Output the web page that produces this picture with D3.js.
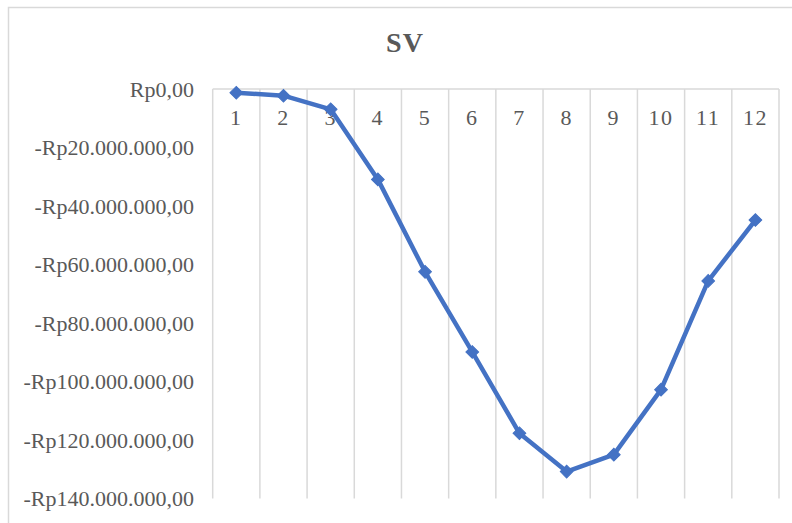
<!DOCTYPE html>
<html>
<head>
<meta charset="utf-8">
<script src="https://cdn.jsdelivr.net/npm/d3@7"></script>
<style>
html,body{margin:0;padding:0;background:#fff;}
svg{display:block;}
</style>
</head>
<body>
<svg id="chart" width="792" height="523"></svg>
<script>
const categories = ["1","2","3","4","5","6","7","8","9","10","11","12"];
const values = [-1270000, -2290000, -6950000, -30900000, -62500000, -89900000, -117700000, -130800000, -125000000, -102800000, -65600000, -44800000];
const yTicks = [0, -20000000, -40000000, -60000000, -80000000, -100000000, -120000000, -140000000];
const yTickLabels = ["Rp0,00","-Rp20.000.000,00","-Rp40.000.000,00","-Rp60.000.000,00","-Rp80.000.000,00","-Rp100.000.000,00","-Rp120.000.000,00","-Rp140.000.000,00"];
const title = "SV";

(function(){
const svg = d3.select("#chart");
const pL = 212.7, pR = 779, pT = 89, pB = 498.5;
const font = "'Liberation Serif','Times New Roman',serif";
const grey = "#595959";
const gridCol = "#d9d9d9";

// chart frame
svg.append("rect").attr("x", 8.5).attr("y", 7.5).attr("width", 820).attr("height", 560)
  .attr("fill", "#fff").attr("stroke", gridCol).attr("stroke-width", 1.5);

// title
svg.append("text").attr("x", 405).attr("y", 52).attr("text-anchor", "middle")
  .attr("font-family", font).attr("font-weight", "bold").attr("font-size", 28)
  .attr("fill", grey).attr("letter-spacing", 1).text(title);

const x = d3.scaleBand().domain(categories).range([pL, pR]).padding(0);
const y = d3.scaleLinear().domain([0, -140000000]).range([pT, pB]);

// vertical category gridlines
const bounds = categories.map(c => x(c)).concat([pR]);
svg.append("g").selectAll("line").data(bounds).join("line")
  .attr("x1", d => d).attr("x2", d => d).attr("y1", pT).attr("y2", pB)
  .attr("stroke", gridCol).attr("stroke-width", 1.5);

// x axis line at top (zero)
svg.append("line").attr("x1", pL).attr("x2", pR).attr("y1", y(0)).attr("y2", y(0))
  .attr("stroke", gridCol).attr("stroke-width", 1.5);

// y axis labels
const yAxis = d3.axisLeft(y).tickValues(yTicks).tickSize(0).tickPadding(0)
  .tickFormat((d, i) => yTickLabels[i]);
const gy = svg.append("g").attr("transform", "translate(194,0)").call(yAxis);
gy.select(".domain").remove();
gy.selectAll("text").attr("font-family", font).attr("font-size", 22).attr("fill", grey)
  .attr("dy", "0.33em");

// x axis labels (inside plot top)
const xAxis = d3.axisTop(x).tickSize(0).tickPadding(0);
const gx = svg.append("g").attr("transform", "translate(0,124.5)").call(xAxis);
gx.select(".domain").remove();
gx.selectAll("text").attr("font-family", font).attr("font-size", 22).attr("fill", grey)
  .attr("letter-spacing", 1.5).attr("dy", 0);

// line
const cx = d => x(d) + x.bandwidth() / 2;
const data = categories.map((c, i) => ({c, v: values[i]}));
svg.append("path").datum(data)
  .attr("d", d3.line().x(d => cx(d.c)).y(d => y(d.v)))
  .attr("fill", "none").attr("stroke", "#4472C4").attr("stroke-width", 4.5)
  .attr("stroke-linejoin", "round");

// diamond markers
const sym = d3.symbol().type(d3.symbolSquare).size(81);
svg.append("g").selectAll("path").data(data).join("path")
  .attr("d", sym)
  .attr("transform", d => `translate(${cx(d.c)},${y(d.v)}) rotate(45)`)
  .attr("fill", "#4472C4").attr("stroke", "#4472C4").attr("stroke-width", 1);
})();
</script>
</body>
</html>
